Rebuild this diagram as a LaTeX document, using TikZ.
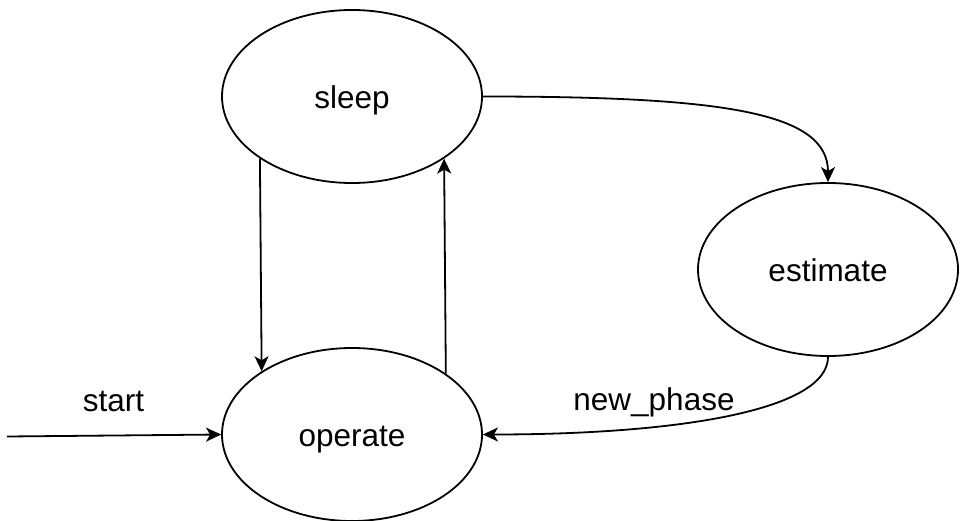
\documentclass[tikz,border=0pt]{standalone}
\usepackage{fontspec}
\setmainfont{Liberation Sans}
\usetikzlibrary{shapes.geometric,arrows.meta}
\begin{document}
\begin{tikzpicture}[x=1pt,y=-1pt,
  state/.style={ellipse,draw,line width=1.8pt,minimum width=260pt,minimum height=173pt,inner sep=0pt,
    font=\fontsize{31.5}{36}\selectfont,text height=24pt,text depth=0pt},
  conn/.style={line width=1.8pt,-{Stealth[length=15pt,width=14pt,inset=4pt]}},
  lbl/.style={font=\fontsize{31.5}{36}\selectfont,anchor=base,inner sep=0pt}]
\useasboundingbox (0,0) rectangle (960,521);
\node[state] (sleep) at (352,96.5) {sleep};
\node[state] (estimate) at (828,269.5) {estimate};
\node[state] (operate) at (352,434.5) {operate};
\coordinate (in) at (7,436.5);
\draw[conn] (sleep.214.2) -- (operate.145.8);
\draw[conn] (operate.33.3) -- (sleep.326.7);
\draw[conn] (sleep.east) .. controls +(240,0) and +(0,-70) .. (estimate.north);
\draw[conn] (estimate.south) .. controls +(0,53) and +(197,0) .. (operate.east);
\draw[conn] (in) -- (operate.west);
\node[lbl] (startlbl) at (113.5,411) {start};
\node[lbl] (phaselbl) at (654,410) {new\_phase};
\end{tikzpicture}
\end{document}
